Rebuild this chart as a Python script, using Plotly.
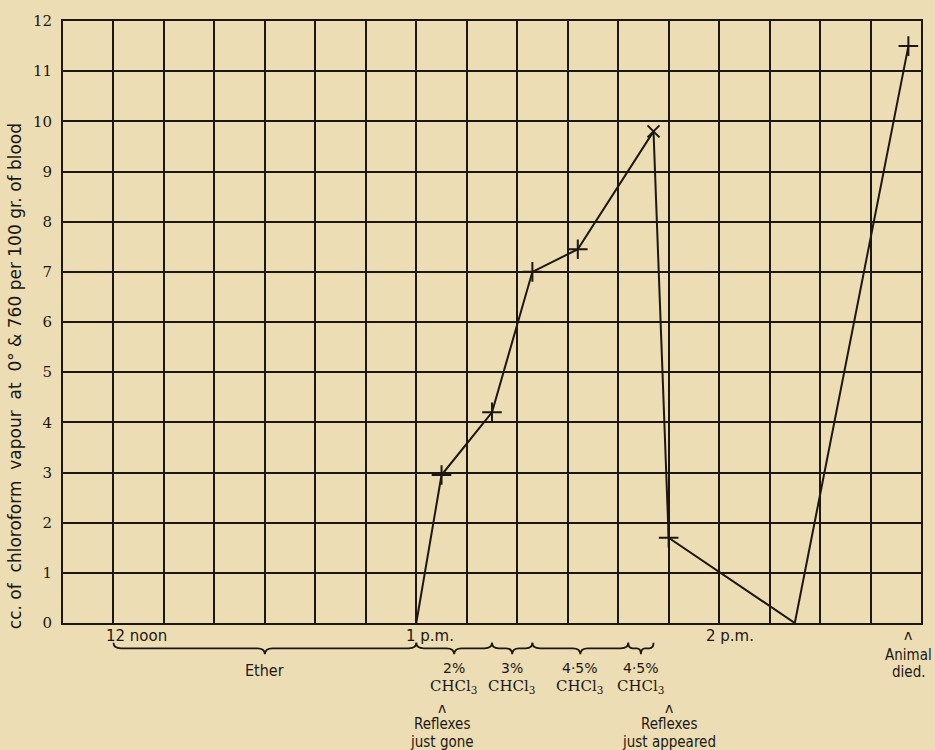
import plotly.graph_objects as go

# ---- data (time in minutes after 12 noon) ----
time_min = [60, 65, 75, 83, 92, 107, 110, 135, 157.5]
chloroform_cc = [0, 2.95, 4.2, 7.0, 7.45, 9.8, 1.7, 0, 11.5]
marker_kind = ["none", "plus", "plus", "plus", "plus", "x", "plus", "none", "plus"]

y_ticks = [0, 1, 2, 3, 4, 5, 6, 7, 8, 9, 10, 11, 12]
y_tick_labels = ["0", "1", "2", "3", "4", "5", "6", "7", "8", "9", "10", "11", "12"]

hour_ticks = [0, 60, 120]
hour_labels = ["12 noon", "1 p.m.", "2 p.m."]
hour_shift = [-9, -12, -15]

brace_start = [0, 60, 75, 83, 102]
brace_end = [60, 75, 83, 102, 107]
brace_top = ["Ether", "2%", "3%", "4·5%", "4·5%"]
brace_bottom = ["", "CHCl<sub>3</sub>", "CHCl<sub>3</sub>", "CHCl<sub>3</sub>", "CHCl<sub>3</sub>"]

event_time = [65, 110]
event_line1 = ["Reflexes", "Reflexes"]
event_line2 = ["just gone", "just appeared"]
death_time = 157.5
death_line1 = "Animal"
death_line2 = "died."

x_range = [-10, 160]
y_range = [0, 12]

ink = "#1c1712"
bg = "#ECDDB4"

fig = go.Figure()

fig.add_trace(go.Scatter(
    x=time_min, y=chloroform_cc, mode="lines",
    line=dict(color=ink, width=2), hoverinfo="skip", showlegend=False))

px_ = [t for t, k in zip(time_min, marker_kind) if k == "plus"]
py_ = [c for c, k in zip(chloroform_cc, marker_kind) if k == "plus"]
fig.add_trace(go.Scatter(
    x=px_, y=py_, mode="markers",
    marker=dict(symbol="cross-thin", size=14, line=dict(color=ink, width=2)),
    showlegend=False))
xx = [t for t, k in zip(time_min, marker_kind) if k == "x"]
xy = [c for c, k in zip(chloroform_cc, marker_kind) if k == "x"]
fig.add_trace(go.Scatter(
    x=xx, y=xy, mode="markers",
    marker=dict(symbol="x-thin", size=12, line=dict(color=ink, width=2)),
    showlegend=False))

# braces
y_tip, y_mid, y_peak = -0.033, -0.042, -0.052
for a, b in zip(brace_start, brace_end):
    c = (a + b) / 2
    d = min(1.5, (b - a) / 6)
    path = (f"M {a},{y_tip} Q {a},{y_mid} {a + d},{y_mid} L {c - d},{y_mid} "
            f"Q {c},{y_mid} {c},{y_peak} Q {c},{y_mid} {c + d},{y_mid} "
            f"L {b - d},{y_mid} Q {b},{y_mid} {b},{y_tip}")
    fig.add_shape(type="path", path=path, xref="x", yref="paper",
                  line=dict(color=ink, width=1.8))

serif = "DejaVu Serif, Liberation Serif, serif"
sans = "DejaVu Sans, Noto Sans, sans-serif"
narrow = "DejaVu Sans Condensed, Liberation Sans Narrow, sans-serif"


def note(x, y, text, family, size, **kw):
    fig.add_annotation(x=x, y=y, xref="x", yref="paper", text=text,
                       showarrow=False, yanchor="middle",
                       font=dict(family=family, size=size, color=ink), **kw)


for t, lab, sh in zip(hour_ticks, hour_labels, hour_shift):
    note(t, -0.021, lab, sans, 15, xanchor="left", xshift=sh)

for a, b, top, bot in zip(brace_start, brace_end, brace_top, brace_bottom):
    c = (a + b) / 2
    if bot:
        note(c, -0.075, top, sans, 14)
        note(c, -0.106, bot, serif, 15)
    else:
        note(c, -0.079, top, narrow, 16)

for t, l1, l2 in zip(event_time, event_line1, event_line2):
    note(t, -0.141, "ʌ", sans, 14)
    note(t, -0.168, l1, narrow, 15)
    note(t, -0.197, l2, narrow, 15)

note(death_time, -0.02, "ʌ", sans, 14)
note(death_time, -0.053, death_line1, narrow, 15)
note(death_time, -0.081, death_line2, narrow, 15)

fig.add_annotation(x=-0.056, y=0.41, xref="paper", yref="paper",
                   text="cc. of  chloroform  vapour  at  0° & 760 per 100 gr. of blood",
                   textangle=-90, showarrow=False, xanchor="center", yanchor="middle",
                   font=dict(family=sans, size=17, color=ink))

fig.update_xaxes(range=x_range, tick0=-10, dtick=10, showgrid=True,
                 gridcolor=ink, gridwidth=1.5, showticklabels=False,
                 showline=True, linecolor=ink, linewidth=2, mirror=True,
                 zeroline=False, ticks="")
fig.update_yaxes(range=y_range, tickvals=y_ticks, ticktext=y_tick_labels,
                 showgrid=True, gridcolor=ink, gridwidth=1.5,
                 showline=True, linecolor=ink, linewidth=2, mirror=True,
                 zeroline=False, ticks="", ticklabelstandoff=6,
                 tickfont=dict(family=serif, size=15, color=ink))

fig.update_layout(
    width=935, height=750,
    margin=dict(l=63, r=13, t=18, b=127),
    paper_bgcolor=bg, plot_bgcolor=bg,
    showlegend=False,
)

fig.write_html("out.html", config={"displayModeBar": False},
               post_script="document.body.style.margin='0';document.body.style.background='" + bg + "';")
